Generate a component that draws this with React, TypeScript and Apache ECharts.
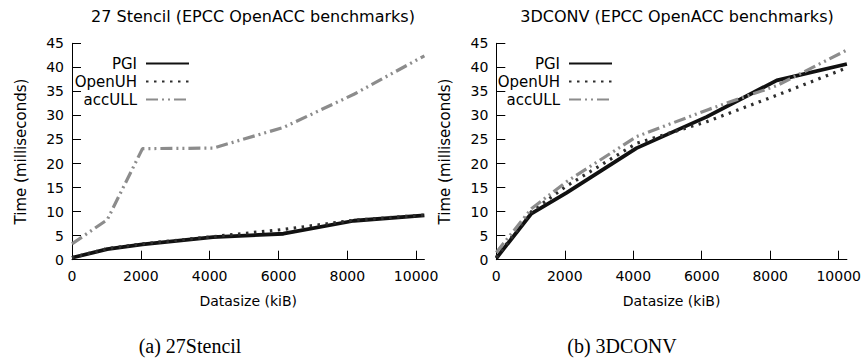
import React, { useEffect, useRef } from 'react';
import * as echarts from 'echarts';

const datasizes = [0, 1024, 2048, 4096, 6144, 8192, 10240];
const xTickValues = [0, 2000, 4000, 6000, 8000, 10000];
const yTickValues = [0, 5, 10, 15, 20, 25, 30, 35, 40, 45];

const stencilPGI = [0.4, 2.2, 3.2, 4.7, 5.4, 8.1, 9.2];
const stencilOpenUH = [0.4, 2.3, 3.3, 4.8, 6.3, 8.2, 9.3];
const stencilAccULL = [3.3, 8.3, 23.1, 23.2, 27.5, 34.4, 42.4];

const convPGI = [0.3, 9.6, 13.9, 23.2, 29.7, 37.3, 40.7];
const convOpenUH = [0.5, 10.0, 15.3, 24.2, 28.7, 34.2, 39.9];
const convAccULL = [1.5, 10.6, 16.2, 25.6, 31.1, 36.2, 43.6];

const seriesNames = ['PGI', 'OpenUH', 'accULL'];
const chartTitles = ['27 Stencil (EPCC OpenACC benchmarks)', '3DCONV (EPCC OpenACC benchmarks)'];
const captions = ['(a) 27Stencil', '(b) 3DCONV'];

const FONT = 'DejaVu Sans';

const styles = [
  { color: '#111111', width: 3.8, type: 'solid' as any },
  { color: '#2e2e2e', width: 3.2, type: [2.5, 5.5] as any },
  { color: '#8c8c8c', width: 3.2, type: [12, 4, 2, 4, 2, 4] as any },
];

function pairs(ys: number[]) {
  return datasizes.map((x, i) => [x, ys[i]]);
}

export default function App() {
  const ref = useRef<HTMLDivElement>(null);
  useEffect(() => {
    document.body.style.margin = '0';
    if (!ref.current) return;
    const chart = echarts.init(ref.current, null, { renderer: 'svg' });
    const grids = [
      { left: 72, top: 43.3, width: 352.4, height: 216.4, containLabel: false, outerBoundsMode: 'none' },
      { left: 496.3, top: 43.3, width: 350.6, height: 216.4, containLabel: false, outerBoundsMode: 'none' },
    ];
    const axisCommon = {
      axisLine: { show: true, lineStyle: { color: '#000', width: 1 } },
      axisTick: { show: true, inside: true, length: 9, lineStyle: { color: '#000', width: 1 } },
      splitLine: { show: false },
    };
    const xAxes = grids.map((_, i) => ({
      type: 'value',
      gridIndex: i,
      min: 0,
      max: 10240,
      interval: 2000,
      name: 'Datasize (kiB)',
      nameLocation: 'middle',
      nameGap: 34,
      nameTextStyle: { fontFamily: FONT, fontSize: 14, color: '#000' },
      ...axisCommon,
      axisTick: { ...axisCommon.axisTick, customValues: xTickValues },
      axisLabel: {
        fontFamily: FONT, fontSize: 14, color: '#000', margin: 9, customValues: xTickValues,
        formatter: (v: number) => String(v),
      },
    }));
    const yAxes = grids.map((_, i) => ({
      type: 'value',
      gridIndex: i,
      min: 0,
      max: 45,
      interval: 5,
      name: 'Time (milliseconds)',
      nameLocation: 'middle',
      nameGap: 44,
      nameTextStyle: { fontFamily: FONT, fontSize: 15, color: '#000' },
      ...axisCommon,
      axisTick: { ...axisCommon.axisTick, customValues: yTickValues },
      axisLabel: {
        fontFamily: FONT, fontSize: 14, color: '#000', margin: 8, customValues: yTickValues,
        formatter: (v: number) => String(v),
      },
    }));
    const dataSets = [
      [stencilPGI, stencilOpenUH, stencilAccULL],
      [convPGI, convOpenUH, convAccULL],
    ];
    const series: any[] = [];
    dataSets.forEach((set, gi) => {
      set.forEach((ys, si) => {
        series.push({
          type: 'line',
          name: seriesNames[si],
          xAxisIndex: gi,
          yAxisIndex: gi,
          data: pairs(ys),
          symbol: 'none',
          showSymbol: false,
          lineStyle: { ...styles[si], cap: 'butt' },
          itemStyle: { color: styles[si].color },
          z: 2 + si,
        });
      });
    });
    const legendRights = [865 - 195, 865 - 618];
    chart.setOption({
      animation: false,
      title: [
        { text: chartTitles[0], left: 248, top: 3, textAlign: 'center', textStyle: { fontFamily: FONT, fontSize: 16, fontWeight: 'normal', color: '#000' } },
        { text: chartTitles[1], left: 672, top: 3, textAlign: 'center', textStyle: { fontFamily: FONT, fontSize: 16, fontWeight: 'normal', color: '#000' } },
        { text: captions[0], left: 185, top: 331, textAlign: 'center', textStyle: { fontFamily: 'Liberation Serif', fontSize: 20, fontWeight: 'normal', color: '#000' } },
        { text: captions[1], left: 617, top: 331, textAlign: 'center', textStyle: { fontFamily: 'Liberation Serif', fontSize: 20, fontWeight: 'normal', color: '#000' } },
      ],
      grid: grids,
      xAxis: xAxes,
      yAxis: yAxes,
      legend: legendRights.map((r) => ({
        orient: 'vertical',
        right: r,
        top: 51,
        align: 'right',
        itemWidth: 43,
        itemHeight: 12,
        itemGap: 3,
        data: seriesNames,
        itemStyle: { opacity: 0 },
        textStyle: { fontFamily: FONT, fontSize: 15, color: '#000', padding: [0, 4, 0, 0] },
        selectedMode: false,
      })),
      series,
    });
    return () => chart.dispose();
  }, []);
  return <div ref={ref} style={{ width: 865, height: 364 }} />;
}
